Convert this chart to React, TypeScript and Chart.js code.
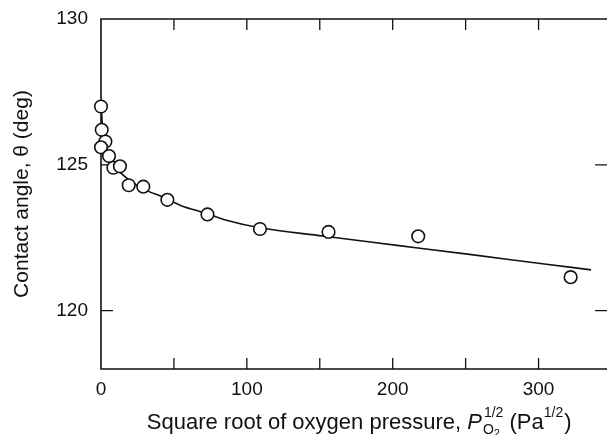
import React, { useEffect, useRef } from "react";
import { Chart, registerables } from "chart.js";

Chart.register(...registerables);

// Measured contact angles (open circles)
const sqrtPressure = [0, 0.5, 3, 0, 5.5, 8.5, 13, 19, 29, 45.5, 73, 109, 156, 217.5, 322];
const contactAngle = [127.0, 126.2, 125.8, 125.6, 125.3, 124.9, 124.95, 124.3, 124.25, 123.8, 123.3, 122.8, 122.7, 122.55, 121.15];

// Fitted curve (solid line)
const fitX = [0.3, 1, 2.5, 5, 8, 12, 20, 30, 42, 55, 71, 86, 109, 152, 203, 254, 304, 336];
const fitY = [126.9, 126.3, 125.8, 125.35, 125.05, 124.8, 124.45, 124.15, 123.9, 123.6, 123.35, 123.1, 122.84, 122.56, 122.24, 121.92, 121.6, 121.4];

// Axis ticks
const xTickValues = [0, 50, 100, 150, 200, 250, 300];
const xTickLabels = ["0", "", "100", "", "200", "", "300"];
const yTickValues = [120, 125, 130];
const yTickLabels = ["120", "125", "130"];

const FONT = "'Liberation Sans', Arial, Helvetica, sans-serif";
const INK = "#111";

const frameAndTicks = {
  id: "frameAndTicks",
  beforeDatasetsDraw(chart: any) {
    const { ctx, chartArea, scales } = chart;
    const { left, right, top, bottom } = chartArea;
    ctx.save();
    ctx.strokeStyle = INK;
    ctx.lineWidth = 1.6;
    ctx.beginPath();
    ctx.moveTo(right, top);
    ctx.lineTo(left, top);
    ctx.lineTo(left, bottom);
    ctx.lineTo(right, bottom);
    ctx.stroke();
    ctx.lineWidth = 1.3;
    const xl = 11;
    xTickValues.forEach((v) => {
      if (v === 0) return;
      const px = scales.x.getPixelForValue(v);
      ctx.beginPath();
      ctx.moveTo(px, bottom);
      ctx.lineTo(px, bottom - xl);
      ctx.moveTo(px, top);
      ctx.lineTo(px, top + xl);
      ctx.stroke();
    });
    const yl = 12;
    yTickValues.forEach((v) => {
      if (v === 130) return;
      const py = scales.y.getPixelForValue(v);
      ctx.beginPath();
      ctx.moveTo(left, py);
      ctx.lineTo(left + yl, py);
      ctx.moveTo(right, py);
      ctx.lineTo(right - yl, py);
      ctx.stroke();
    });
    ctx.restore();
  },
};

const xTitle = {
  id: "xTitle",
  afterDraw(chart: any) {
    const { ctx, chartArea, scales } = chart;
    const base = 22;
    const small = 14;
    const tiny = 11;
    const normal = `${base}px ${FONT}`;
    const italic = `italic ${base}px ${FONT}`;
    const sm = `${small}px ${FONT}`;
    const tn = `${tiny}px ${FONT}`;
    ctx.save();
    ctx.fillStyle = INK;
    ctx.textBaseline = "alphabetic";
    ctx.textAlign = "left";
    const w = (t: string, f: string) => {
      ctx.font = f;
      return ctx.measureText(t).width;
    };
    const p1 = "Square root of oxygen pressure, ";
    const subW = w("O", sm) + w("2", tn);
    const supW = w("1/2", sm);
    const grp = Math.max(subW, supW) + 1;
    const p3 = " (Pa";
    const total = w(p1, normal) + w("P", italic) + 1 + grp + w(p3, normal) + supW + 1 + w(")", normal);
    const cx = scales.x.getPixelForValue(177);
    const baseY = chartArea.bottom + 60;
    let x = cx - total / 2;
    ctx.font = normal;
    ctx.fillText(p1, x, baseY);
    x += w(p1, normal);
    ctx.font = italic;
    ctx.fillText("P", x, baseY);
    x += w("P", italic) + 1;
    ctx.font = sm;
    ctx.fillText("1/2", x + 1, baseY - 12);
    ctx.fillText("O", x, baseY + 5);
    const ow = w("O", sm);
    ctx.font = tn;
    ctx.fillText("2", x + ow, baseY + 8);
    x += grp;
    ctx.font = normal;
    ctx.fillText(p3, x, baseY);
    x += w(p3, normal);
    ctx.font = sm;
    ctx.fillText("1/2", x, baseY - 12);
    x += supW + 1;
    ctx.font = normal;
    ctx.fillText(")", x, baseY);
    ctx.restore();
  },
};

export default function App() {
  const ref = useRef<HTMLCanvasElement | null>(null);

  useEffect(() => {
    if (!ref.current) return;
    const points = sqrtPressure.map((x, i) => ({ x, y: contactAngle[i] }));
    const fit = fitX.map((x, i) => ({ x, y: fitY[i] }));
    const chart = new Chart(ref.current, {
      type: "scatter",
      data: {
        datasets: [
          {
            label: "Measured",
            data: points,
            pointRadius: 6.3,
            pointBorderWidth: 1.6,
            pointBackgroundColor: "#fff",
            pointBorderColor: INK,
            showLine: false,
            clip: false as any,
            order: 0,
          },
          {
            label: "Fit",
            data: fit,
            showLine: true,
            pointRadius: 0,
            borderColor: INK,
            borderWidth: 1.6,
            cubicInterpolationMode: "monotone",
            clip: false as any,
            order: 1,
          } as any,
        ],
      },
      options: {
        animation: false,
        responsive: false,
        devicePixelRatio: 1,
        layout: { padding: { top: 19, right: 0, left: 0, bottom: 0 } },
        plugins: { legend: { display: false }, tooltip: { enabled: false } },
        scales: {
          x: {
            type: "linear",
            min: 0,
            max: 347,
            grid: { display: false, drawTicks: false },
            border: { display: false },
            afterBuildTicks: (s: any) => {
              s.ticks = xTickValues.map((value) => ({ value }));
            },
            afterFit: (s: any) => {
              s.height = 74;
              s.paddingLeft = 0;
              s.paddingRight = 0;
            },
            ticks: {
              autoSkip: false,
              maxRotation: 0,
              padding: 9,
              color: INK,
              font: { family: FONT, size: 19 },
              callback: (_v: any, i: number) => xTickLabels[i],
            },
          },
          y: {
            type: "linear",
            min: 118,
            max: 130,
            grid: { display: false, drawTicks: false },
            border: { display: false },
            afterBuildTicks: (s: any) => {
              s.ticks = yTickValues.map((value) => ({ value }));
            },
            afterFit: (s: any) => {
              s.width = 101;
              s.paddingTop = 0;
              s.paddingBottom = 0;
            },
            title: {
              display: true,
              text: "Contact angle, θ (deg)",
              color: INK,
              font: { family: FONT, size: 21 },
              padding: { top: 10, bottom: 0 },
            },
            ticks: {
              padding: 13,
              color: INK,
              font: { family: FONT, size: 19 },
              callback: (_v: any, i: number) => yTickLabels[i],
            },
          },
        },
      },
      plugins: [frameAndTicks, xTitle],
    });
    return () => chart.destroy();
  }, []);

  return (
    <div style={{ margin: -8, width: 615, height: 443, overflow: "hidden" }}>
      <canvas ref={ref} width={615} height={443} style={{ display: "block" }} />
    </div>
  );
}
